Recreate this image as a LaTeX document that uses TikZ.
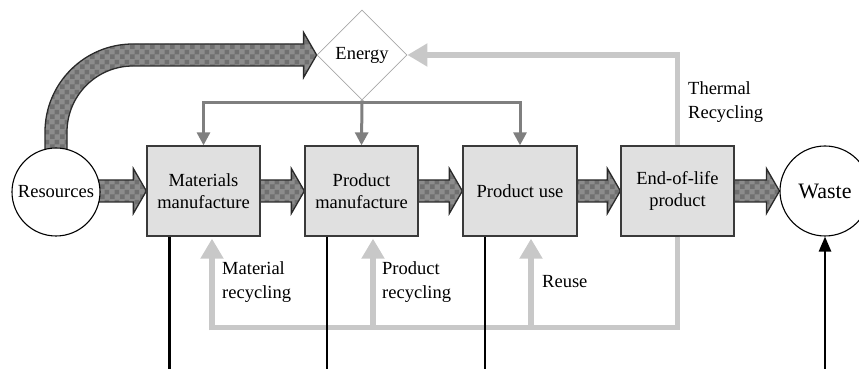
\documentclass[tikz,border=0pt]{standalone}
\usepackage{fontspec}
\setmainfont{Liberation Serif}
\usetikzlibrary{shapes.geometric,arrows.meta,patterns,calc}
\pgfdeclarelayer{bg}
\pgfsetlayers{bg,main}
\pgfdeclarepatternformonly{bigchecker}{\pgfpointorigin}{\pgfqpoint{10pt}{10pt}}{\pgfqpoint{10pt}{10pt}}{%
 \pgfpathrectangle{\pgfpointorigin}{\pgfqpoint{5pt}{5pt}}%
 \pgfpathrectangle{\pgfqpoint{5pt}{5pt}}{\pgfqpoint{5pt}{5pt}}%
 \pgfusepath{fill}}
\definecolor{boxfill}{HTML}{E0E0E0}
\definecolor{boxdraw}{HTML}{3A3A3A}
\definecolor{egray}{HTML}{7F7F7F}
\definecolor{lgray}{HTML}{C8C8C8}
\definecolor{fatbase}{HTML}{8C8C8C}
\definecolor{fatdark}{HTML}{707070}
\definecolor{fatline}{HTML}{2A2A2A}
\definecolor{diag}{HTML}{A8A8A8}
\tikzset{
  stagebox/.style={draw=boxdraw,line width=1.3pt,fill=boxfill,minimum width=113pt,minimum height=90pt,inner sep=0pt,align=center,font=\fontsize{18.5}{22}\selectfont},
  endcircle/.style={circle,draw=black,line width=1.1pt,fill=white,inner sep=0pt},
  fatarr/.style={draw=fatline,line width=1.3pt,preaction={fill=fatbase},pattern=bigchecker,pattern color=fatdark,line join=miter},
  eline/.style={draw=egray,line width=3pt,-{Triangle[width=13pt,length=13pt]}},
  lgline/.style={draw=lgray,line width=5.5pt},
  lgarrow/.style={lgline,-{Triangle[width=22pt,length=20pt]}},
  blkline/.style={draw=black,line width=2.5pt},
  lbl/.style={anchor=west,align=left,inner sep=0pt,font=\fontsize{18.5}{24}\selectfont}
}
\newcommand\fatarrow[2]{%
  \draw[fatarr] let \p1=(#1), \p2=(#2) in
    ({\x1-3pt},{\y2+11pt}) -- ({\x2-13pt},{\y2+11pt}) -- ({\x2-13pt},{\y2+22.5pt}) -- (\p2)
    -- ({\x2-13pt},{\y2-22.5pt}) -- ({\x2-13pt},{\y2-11pt}) -- ({\x1-3pt},{\y2-11pt}) -- cycle;}
\begin{document}
\begin{tikzpicture}[x=1pt,y=1pt]
\useasboundingbox (0,0) rectangle (859,369);
% nodes
\node[endcircle,minimum size=88pt,font=\fontsize{18.5}{22}\selectfont] (res) at (56,177) {Resources};
\node[stagebox] (b1) at (203.5,178) {Materials\\manufacture};
\node[stagebox] (b2) at (361.5,178) {Product\\manufacture};
\node[stagebox,minimum width=114pt] (b3) at (520,178) {Product use};
\node[stagebox] (b4) at (677.5,178) {End-of-life\\product};
\node[endcircle,minimum size=90pt,font=\fontsize{22}{26}\selectfont] (waste) at (825,178) {Waste};
\node[diamond,aspect=1,draw=diag,line width=0.8pt,fill=white,minimum size=90pt,inner sep=0pt,font=\fontsize{18.5}{22}\selectfont] (en) at (362,314) {Energy};
% labels
\node[lbl] (lmr) at (222,86.5) {Material\\recycling};
\node[lbl] (lpr) at (382,86.5) {Product\\recycling};
\node[lbl] (lru) at (542,87) {Reuse};
\node[lbl] (ltr) at (688,266.5) {Thermal\\Recycling};
% fat arrows
\begin{pgfonlayer}{bg}
\fatarrow{res.east}{b1.west}
\fatarrow{b1.east}{b2.west}
\fatarrow{b2.east}{b3.west}
\fatarrow{b3.east}{b4.west}
\fatarrow{b4.east}{waste.west}
\draw[fatarr] let \p1=(res.north), \p2=(en.west) in
  ({\x1-11pt},{\y1-4pt}) -- ({\x1-11pt},{\y2-77pt}) arc[start angle=180,end angle=90,radius=88pt]
  -- ({\x2-13pt},{\y2+11pt}) -- ({\x2-13pt},{\y2+22.5pt}) -- (\p2)
  -- ({\x2-13pt},{\y2-22.5pt}) -- ({\x2-13pt},{\y2-11pt}) -- ({\x1+77pt},{\y2-11pt})
  arc[start angle=90,end angle=180,radius=66pt] -- ({\x1+11pt},{\y1-4pt}) -- cycle;
\end{pgfonlayer}
% energy distribution
\coordinate (ej) at ($(en.south)+(0,-2)$);
\draw[eline] (en.south) -- (b2.north);
\draw[eline] (ej) -| (b1.north);
\draw[eline] (ej) -| (b3.north);
% thermal recycling
\draw[lgarrow] (b4.north) |- (en.east);
% recycling loop
\coordinate (lc) at ($(b4.south)+(0,-91)$);
\coordinate (l1) at ($(b1.south)+(8.5,-91)$);
\coordinate (l2) at ($(b2.south)+(11.5,-91)$);
\coordinate (l3) at ($(b3.south)+(11,-91)$);
\draw[lgline,line cap=butt] (b4.south) -- (lc) -- ([xshift=-2.75pt]l1);
\draw[lgarrow,shorten >=2pt] ([yshift=-2.75pt]l1) -- (l1 |- b1.south);
\draw[lgarrow,shorten >=2pt] (l2) -- (l2 |- b2.south);
\draw[lgarrow,shorten >=2pt] (l3) -- (l3 |- b3.south);
% outputs
\coordinate (o1) at ($(b1.south)+(-34,-140)$);
\coordinate (o2) at ($(b2.south)+(-34.5,-140)$);
\coordinate (o3) at ($(b3.south)+(-35,-140)$);
\coordinate (o4) at ($(waste.south)+(0,-140)$);
\draw[blkline] ($(b1.south)+(-34,0)$) -- (o1);
\draw[blkline] ($(b2.south)+(-34.5,0)$) -- (o2);
\draw[blkline] ($(b3.south)+(-35,0)$) -- (o3);
\draw[blkline,-{Triangle[width=12pt,length=15pt]}] (o4) -- (waste.south);
\end{tikzpicture}
\end{document}
